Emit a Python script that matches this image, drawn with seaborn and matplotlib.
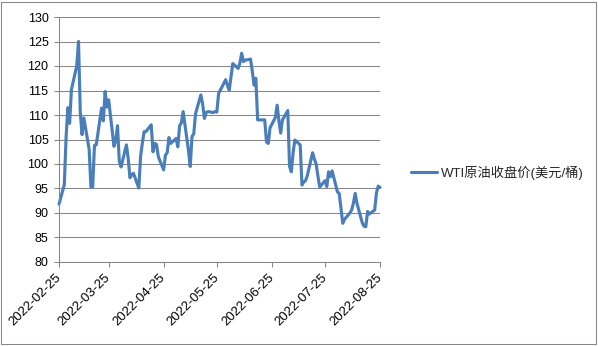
import pandas as pd
import matplotlib
matplotlib.use("Agg")
import matplotlib.pyplot as plt
import seaborn as sns
from matplotlib.patches import Rectangle

# Trading window (one value per weekday)
start_date = "2022-02-25"
end_date = "2022-08-25"

# WTI closing prices, USD per barrel, grouped by week
prices = [
    91.8,                                   # Feb 25
    95.8, 105.5, 111.5, 108.3, 115.2,       # Feb 28 - Mar 4
    120.0, 125.0, 110.5, 106.0, 109.4,      # Mar 7 - Mar 11
    103.0, 95.3, 95.3, 103.8, 103.9,        # Mar 14 - Mar 18
    111.4, 108.8, 114.8, 111.6, 113.1,      # Mar 21 - Mar 25
    103.6, 104.8, 107.8, 100.5, 99.4,       # Mar 28 - Apr 1
    103.9, 101.2, 97.2, 97.8, 98.1,         # Apr 4 - Apr 8
    95.1, 101.5, 104.3, 106.6, 106.6,       # Apr 11 - Apr 15
    108.0, 102.5, 104.2, 104.0, 101.5,      # Apr 18 - Apr 22
    98.8, 101.8, 102.3, 105.4, 104.2,       # Apr 25 - Apr 29
    105.2, 103.5, 107.8, 108.4, 110.7,      # May 2 - May 6
    102.8, 99.5, 105.6, 106.2, 110.3,       # May 9 - May 13
    114.1, 112.2, 109.3, 110.5, 110.7,      # May 16 - May 20
    110.5, 110.7, 110.6, 114.4, 115.1,      # May 23 - May 27
    117.2, 116.0, 115.1, 117.8, 120.5,      # May 30 - Jun 3
    119.5, 120.6, 122.6, 120.9, 121.2,      # Jun 6 - Jun 10
    121.4, 118.9, 116.1, 117.5, 109.0,      # Jun 13 - Jun 17
    109.0, 109.0, 104.5, 104.2, 107.4,      # Jun 20 - Jun 24
    109.5, 112.0, 108.8, 106.3, 109.0,      # Jun 27 - Jul 1
    110.9, 99.5, 98.4, 102.3, 104.9,        # Jul 4 - Jul 8
    103.9, 95.7, 96.3, 96.6, 97.6,          # Jul 11 - Jul 15
    102.3, 101.0, 100.0, 97.5, 95.3,        # Jul 18 - Jul 22
    96.6, 95.4, 98.4, 97.4, 98.6,           # Jul 25 - Jul 29
    94.3, 94.0, 91.0, 87.9, 88.7,           # Aug 1 - Aug 5
    90.0, 90.6, 92.0, 94.0, 92.0,           # Aug 8 - Aug 12
    88.0, 87.3, 87.2, 90.3, 89.8,           # Aug 15 - Aug 19
    90.6, 94.1, 95.5, 95.2,                 # Aug 22 - Aug 25
]

tick_labels = ["2022-02-25", "2022-03-25", "2022-04-25", "2022-05-25",
               "2022-06-25", "2022-07-25", "2022-08-25"]
y_ticks = [80, 85, 90, 95, 100, 105, 110, 115, 120, 125, 130]
series_name = "WTI原油收盘价(美元/桶)"

dates = pd.bdate_range(start_date, end_date)
df = pd.DataFrame({"date": dates, "price": prices})

sns.set_style("white")
plt.rcParams["font.family"] = ["Liberation Sans", "Noto Sans CJK SC"]
plt.rcParams["axes.unicode_minus"] = False

W, H = 598, 346
grey = "#868686"
fig = plt.figure(figsize=(W / 100, H / 100), dpi=100)
ax = fig.add_axes([59 / W, 1 - 262 / H, (380 - 59) / W, (262 - 17) / H])

sns.lineplot(data=df, x="date", y="price", ax=ax, color="#4A7EBB",
             linewidth=2.25, label=series_name)
for line in ax.get_lines():
    line.set_clip_on(False)
    line.set_solid_joinstyle("round")

ax.set_xlim(pd.Timestamp(start_date), pd.Timestamp(end_date))
ax.set_ylim(80, 130)
ax.set_yticks(y_ticks)
ax.set_xticks(pd.to_datetime(tick_labels))
ax.set_xticklabels(tick_labels, rotation=45, ha="right", va="center",
                   rotation_mode="anchor", fontsize=9.5)
ax.set_xlabel("")
ax.set_ylabel("")

ax.grid(axis="y", color=grey, linewidth=0.75)
ax.grid(axis="x", visible=False)
ax.set_axisbelow(True)
for side in ("top", "right"):
    ax.spines[side].set_visible(False)
for side in ("left", "bottom"):
    ax.spines[side].set_color(grey)
    ax.spines[side].set_linewidth(0.75)

ax.tick_params(axis="both", direction="out", length=3.6, width=0.75,
               color=grey, labelcolor="black")
ax.tick_params(axis="y", pad=4, labelsize=9)
ax.tick_params(axis="x", pad=6)
ax.tick_params(left=True, bottom=True)

ax.legend(loc="center left", bbox_to_anchor=(411 / W, 1 - 173 / H),
          bbox_transform=fig.transFigure, frameon=False, handlelength=2.0,
          handletextpad=0.3, borderpad=0, borderaxespad=0, fontsize=9.5)

# Chart-area border
fig.patches.append(Rectangle((1 / W, 2 / H), (W - 3) / W, (H - 4) / H,
                             transform=fig.transFigure, fill=False,
                             edgecolor=grey, linewidth=0.75))

fig.savefig("out.png", dpi=100)
